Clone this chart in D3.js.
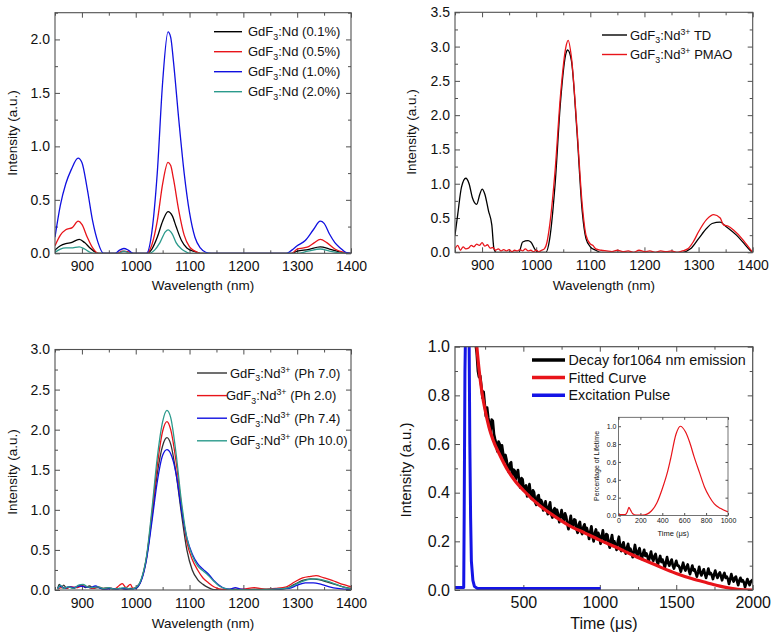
<!DOCTYPE html>
<html><head><meta charset="utf-8">
<script src="https://cdn.jsdelivr.net/npm/d3@7"></script>
<style>body{margin:0;background:#fff}svg{display:block}text{font-family:"Liberation Sans",Arial,sans-serif;fill:#111}</style>
</head><body>
<script>
// ---------- DATA ----------
const wlTicks = [900, 1000, 1100, 1200, 1300, 1400];
const wlMinor = [850, 950, 1050, 1150, 1250, 1350];
const p1YTicks = [0, 0.5, 1.0, 1.5, 2.0];
const p1YMinor = [0.25, 0.75, 1.25, 1.75, 2.25];
const p2YTicks = [0, 0.5, 1.0, 1.5, 2.0, 2.5, 3.0, 3.5];
const p2YMinor = [0.25, 0.75, 1.25, 1.75, 2.25, 2.75, 3.25];
const p3YTicks = [0, 0.5, 1.0, 1.5, 2.0, 2.5, 3.0];
const p3YMinor = [0.25, 0.75, 1.25, 1.75, 2.25, 2.75];
const timeTicks = [500, 1000, 1500, 2000];
const timeMinor = [250, 750, 1250, 1750];
const p4YTicks = [0, 0.2, 0.4, 0.6, 0.8, 1.0];
const p4YMinor = [0.1, 0.3, 0.5, 0.7, 0.9];
const insetXTicks = [0, 200, 400, 600, 800, 1000];
const insetYTicks = [0, 0.2, 0.4, 0.6, 0.8, 1.0];

const p1Labels = ["GdF3:Nd (0.1%)", "GdF3:Nd (0.5%)", "GdF3:Nd (1.0%)", "GdF3:Nd (2.0%)"];
const p1Colors = ["#000000", "#e8141a", "#1010e0", "#2b9a8c"];
const p1_01 = [[850,0.03],[860,0.07],[870,0.09],[880,0.1],[895,0.13],[905,0.1],[915,0.05],[925,0.01],[932,0],[1020,0],[1030,0.04],[1040,0.15],[1050,0.3],[1060,0.39],[1068,0.35],[1075,0.25],[1085,0.12],[1095,0.05],[1110,0.015],[1120,0],[1290,0],[1300,0.02],[1320,0.035],[1343,0.06],[1360,0.04],[1380,0.012],[1395,0],[1400,0]];
const p1_05 = [[850,0.07],[860,0.17],[870,0.22],[882,0.24],[893,0.3],[900,0.27],[910,0.15],[920,0.05],[930,0],[965,0],[975,0.02],[985,0.015],[995,0],[1020,0],[1030,0.08],[1040,0.3],[1050,0.65],[1060,0.85],[1065,0.82],[1070,0.7],[1080,0.4],[1090,0.17],[1100,0.06],[1110,0.02],[1120,0],[1290,0],[1300,0.04],[1312,0.05],[1322,0.065],[1332,0.1],[1343,0.13],[1355,0.1],[1370,0.04],[1385,0.01],[1400,0]];
const p1_10 = [[850,0.15],[860,0.45],[870,0.65],[880,0.78],[893,0.89],[900,0.85],[910,0.6],[920,0.3],[930,0.1],[940,0],[962,0],[970,0.03],[978,0.045],[986,0.03],[995,0],[1020,0],[1030,0.2],[1040,0.75],[1050,1.6],[1060,2.07],[1065,2.02],[1070,1.8],[1080,1.25],[1090,0.75],[1100,0.38],[1110,0.15],[1120,0.05],[1130,0.01],[1140,0],[1280,0],[1290,0.03],[1300,0.07],[1315,0.12],[1330,0.22],[1343,0.3],[1350,0.28],[1360,0.18],[1370,0.1],[1380,0.05],[1390,0.01],[1400,0]];
const p1_20 = [[850,0.01],[860,0.04],[870,0.05],[880,0.05],[895,0.06],[905,0.04],[915,0.01],[925,0],[968,0],[978,0.02],[990,0],[1025,0],[1035,0.03],[1045,0.1],[1055,0.2],[1060,0.22],[1068,0.18],[1075,0.1],[1085,0.04],[1095,0.01],[1100,0],[1300,0],[1320,0.02],[1343,0.04],[1360,0.02],[1390,0],[1400,0]];

const p2Colors = ["#000000", "#e8141a"];
const p2_TD = [[850,0.25],[855,0.55],[862,0.95],[870,1.08],[876,1.0],[882,0.8],[890,0.7],[896,0.85],[900,0.92],[905,0.85],[912,0.6],[918,0.4],[922,0.05],[926,0],[968,0],[975,0.15],[985,0.17],[990,0.15],[1000,0.02],[1010,0],[1018,0],[1025,0.2],[1035,1.0],[1045,2.2],[1055,2.9],[1058,2.95],[1065,2.8],[1075,1.8],[1085,0.6],[1092,0.2],[1100,0.08],[1110,0.03],[1120,0],[1270,0],[1285,0.05],[1300,0.2],[1315,0.35],[1325,0.42],[1340,0.44],[1350,0.38],[1370,0.25],[1385,0.12],[1395,0.03],[1400,0]];
const p2_PMAO = [[850,0.05],[855,0.1],[860,0.03],[865,0.08],[870,0.05],[875,0.06],[880,0.1],[885,0.08],[890,0.12],[895,0.1],[900,0.14],[905,0.09],[910,0.11],[915,0.06],[920,0.07],[925,0.03],[930,0.05],[935,0.02],[940,0.04],[945,0.02],[950,0.04],[955,0.01],[960,0.03],[965,0.02],[970,0.04],[975,0.02],[980,0.05],[985,0.02],[990,0.03],[995,0.01],[1000,0.03],[1005,0.01],[1010,0.03],[1015,0.05],[1020,0.15],[1025,0.4],[1035,1.2],[1045,2.3],[1055,3.0],[1059,3.09],[1065,2.85],[1075,1.85],[1085,0.7],[1092,0.25],[1100,0.12],[1105,0.1],[1110,0.05],[1120,0.03],[1130,0.02],[1140,0.01],[1150,0.03],[1160,0.01],[1170,0.02],[1180,0],[1190,0.03],[1200,0.01],[1210,0.02],[1220,0],[1230,0.02],[1240,0.01],[1250,0.02],[1260,0],[1270,0.02],[1280,0.05],[1290,0.15],[1300,0.3],[1315,0.48],[1328,0.55],[1340,0.5],[1346,0.4],[1355,0.38],[1365,0.32],[1380,0.2],[1390,0.1],[1400,0]];

const p3Colors = ["#333333", "#e8141a", "#1010e0", "#2b9a8c"];
const p3Ph70 = [[855,0.02],[858,0.07],[862,0.03],[866,0.06],[872,0.02],[878,0.04],[885,0.02],[892,0.05],[900,0.06],[906,0.03],[914,0.05],[922,0.02],[930,0.03],[940,0.01],[950,0.02],[960,0.01],[970,0.02],[980,0.01],[990,0.02],[1000,0.02],[1010,0.12],[1020,0.4],[1030,0.9],[1040,1.45],[1050,1.8],[1058,1.9],[1065,1.82],[1075,1.45],[1085,0.95],[1095,0.5],[1105,0.25],[1115,0.13],[1125,0.07],[1135,0.03],[1145,0.005],[1160,0],[1180,0.01],[1200,0.005],[1230,0.01],[1260,0.005],[1280,0.02],[1295,0.07],[1310,0.12],[1325,0.14],[1340,0.13],[1355,0.1],[1370,0.07],[1385,0.04],[1400,0.02]];
const p3Ph20 = [[855,0.01],[862,0.03],[870,0.02],[880,0.04],[890,0.03],[900,0.05],[910,0.04],[920,0.02],[930,0.04],[940,0.02],[950,0.03],[960,0.01],[970,0.06],[975,0.08],[982,0.03],[990,0.07],[995,0.02],[1000,0.03],[1010,0.12],[1020,0.4],[1030,0.95],[1040,1.55],[1050,1.98],[1058,2.1],[1065,2.0],[1075,1.6],[1085,1.05],[1095,0.6],[1105,0.38],[1115,0.25],[1125,0.15],[1135,0.09],[1145,0.04],[1155,0.015],[1170,0.005],[1200,0.01],[1220,0.03],[1240,0.01],[1260,0.02],[1280,0.04],[1295,0.1],[1310,0.15],[1325,0.17],[1335,0.18],[1350,0.15],[1365,0.12],[1380,0.08],[1390,0.06],[1400,0.04]];
const p3Ph74 = [[855,0.02],[860,0.05],[868,0.02],[875,0.04],[885,0.03],[895,0.05],[905,0.04],[915,0.03],[925,0.05],[935,0.02],[945,0.01],[955,0.02],[965,0.01],[975,0.02],[985,0.01],[995,0.01],[1005,0.05],[1012,0.15],[1020,0.38],[1030,0.85],[1040,1.35],[1050,1.68],[1058,1.75],[1065,1.7],[1075,1.45],[1085,1.0],[1095,0.65],[1105,0.45],[1115,0.33],[1125,0.26],[1135,0.2],[1145,0.12],[1155,0.06],[1165,0.02],[1175,0.01],[1185,0.03],[1195,0.01],[1220,0],[1260,0.01],[1285,0.02],[1300,0.06],[1315,0.09],[1330,0.09],[1345,0.07],[1360,0.04],[1375,0.02],[1390,0.01],[1400,0]];
const p3Ph100 = [[855,0.01],[860,0.06],[866,0.02],[874,0.04],[884,0.02],[894,0.06],[902,0.07],[910,0.04],[920,0.03],[930,0.04],[940,0.02],[950,0.03],[960,0.01],[970,0.02],[980,0.03],[990,0.01],[1000,0.03],[1010,0.13],[1020,0.42],[1030,1.0],[1040,1.65],[1050,2.1],[1058,2.24],[1065,2.15],[1075,1.7],[1085,1.1],[1095,0.65],[1105,0.43],[1115,0.3],[1125,0.24],[1135,0.18],[1145,0.11],[1155,0.05],[1165,0.02],[1180,0.005],[1220,0.005],[1260,0.01],[1285,0.03],[1300,0.08],[1320,0.13],[1335,0.14],[1350,0.12],[1365,0.09],[1380,0.05],[1395,0.02],[1400,0.01]];

const p4Labels = ["Decay for1064 nm emission", "Fitted Curve", "Excitation Pulse"];
const p4Colors = ["#000000", "#e8141a", "#1414e6"];
const decay = [[180,1.05],[195,0.975],[203,0.9],[210,0.875],[218,0.88],[225,0.84],[233,0.79],[240,0.815],[248,0.76],[255,0.715],[263,0.75],[270,0.71],[278,0.68],[285,0.65],[293,0.7],[300,0.695],[308,0.64],[315,0.62],[323,0.6],[330,0.57],[338,0.61],[345,0.6],[353,0.55],[360,0.595],[368,0.56],[375,0.525],[383,0.555],[390,0.535],[398,0.5],[405,0.485],[413,0.52],[420,0.525],[428,0.47],[435,0.495],[443,0.49],[450,0.455],[458,0.48],[465,0.493],[473,0.44],[480,0.421],[488,0.46],[495,0.455],[503,0.41],[510,0.42],[518,0.43],[525,0.385],[533,0.41],[540,0.435],[548,0.39],[555,0.375],[563,0.41],[570,0.401],[578,0.36],[585,0.35],[593,0.385],[600,0.39],[608,0.35],[615,0.37],[623,0.36],[630,0.327],[638,0.34],[645,0.364],[653,0.33],[660,0.312],[668,0.345],[675,0.36],[683,0.31],[690,0.298],[698,0.33],[705,0.336],[713,0.3],[720,0.33],[728,0.31],[735,0.279],[743,0.3],[750,0.328],[758,0.3],[765,0.287],[773,0.315],[780,0.301],[788,0.27],[795,0.25],[803,0.28],[810,0.305],[818,0.27],[825,0.26],[833,0.29],[840,0.288],[848,0.25],[855,0.235],[863,0.27],[870,0.28],[878,0.24],[885,0.23],[893,0.26],[900,0.27],[908,0.24],[915,0.255],[923,0.235],[930,0.21],[938,0.24],[945,0.262],[953,0.22],[960,0.2],[968,0.235],[975,0.249],[983,0.21],[990,0.235],[998,0.22],[1005,0.19],[1013,0.22],[1020,0.245],[1028,0.21],[1035,0.195],[1043,0.23],[1050,0.226],[1058,0.19],[1065,0.174],[1073,0.205],[1080,0.226],[1088,0.19],[1095,0.2],[1103,0.185],[1110,0.165],[1118,0.2],[1125,0.219],[1133,0.18],[1140,0.16],[1148,0.185],[1155,0.196],[1163,0.165],[1170,0.15],[1178,0.175],[1185,0.19],[1193,0.16],[1200,0.17],[1208,0.155],[1215,0.135],[1223,0.16],[1230,0.185],[1238,0.155],[1245,0.14],[1253,0.16],[1260,0.172],[1268,0.14],[1275,0.128],[1283,0.15],[1290,0.165],[1298,0.14],[1305,0.15],[1313,0.135],[1320,0.118],[1328,0.14],[1335,0.158],[1343,0.13],[1350,0.12],[1358,0.14],[1365,0.148],[1373,0.12],[1380,0.105],[1388,0.125],[1395,0.14],[1403,0.115],[1410,0.125],[1418,0.11],[1425,0.092],[1433,0.115],[1440,0.135],[1448,0.11],[1455,0.1],[1463,0.115],[1470,0.125],[1478,0.1],[1485,0.088],[1493,0.105],[1500,0.12],[1508,0.1],[1515,0.1],[1523,0.09],[1530,0.075],[1538,0.095],[1545,0.112],[1553,0.09],[1560,0.08],[1568,0.095],[1575,0.105],[1583,0.08],[1590,0.065],[1598,0.085],[1605,0.1],[1613,0.08],[1620,0.085],[1628,0.07],[1635,0.055],[1643,0.075],[1650,0.095],[1658,0.07],[1665,0.06],[1673,0.075],[1680,0.085],[1688,0.065],[1695,0.05],[1703,0.07],[1710,0.088],[1718,0.065],[1725,0.07],[1733,0.06],[1740,0.045],[1748,0.065],[1755,0.08],[1763,0.06],[1770,0.05],[1778,0.065],[1785,0.072],[1793,0.055],[1800,0.04],[1808,0.06],[1815,0.07],[1823,0.05],[1830,0.055],[1838,0.045],[1845,0.025],[1853,0.045],[1860,0.065],[1868,0.045],[1875,0.035],[1883,0.05],[1890,0.055],[1898,0.035],[1905,0.02],[1913,0.04],[1920,0.05],[1928,0.035],[1935,0.04],[1943,0.03],[1950,0.012],[1958,0.03],[1965,0.045],[1973,0.03],[1980,0.02],[1988,0.035],[1995,0.04],[2000,0.03]];
const fitted = [[190,1.04],[200,0.97],[215,0.88],[230,0.81],[250,0.74],[275,0.67],[300,0.62],[350,0.55],[400,0.49],[450,0.445],[500,0.41],[600,0.35],[700,0.305],[800,0.265],[900,0.235],[1000,0.205],[1100,0.178],[1200,0.148],[1300,0.12],[1400,0.093],[1500,0.068],[1600,0.047],[1700,0.03],[1800,0.014],[1900,0.003],[2000,0]];
const pulse = [[50,0.01],[110,0.01],[113,0.3],[118,0.9],[122,1.06],[145,1.06],[150,0.6],[155,0.3],[160,0.12],[170,0.04],[180,0.015],[200,0.006],[1005,0.006]];
const lifetime = [[0,0.01],[60,0.01],[80,0.04],[95,0.09],[110,0.06],[130,0.02],[160,0.005],[220,0.005],[260,0.015],[300,0.05],[350,0.14],[400,0.3],[450,0.5],[475,0.63],[525,0.91],[565,1.0],[610,0.94],[650,0.82],[690,0.66],[740,0.48],[785,0.32],[830,0.21],[875,0.13],[930,0.08],[1000,0.04]];

// ---------- DRAW ----------
const svg = d3.select("body").append("svg").attr("width", 774).attr("height", 636);
let clipId = 0;
const FRAME = "#505050";

function panel(cfg) {
  const x = d3.scaleLinear().domain(cfg.xd).range([cfg.x0, cfg.x1]);
  const y = d3.scaleLinear().domain(cfg.yd).range([cfg.y1, cfg.y0]);
  const g = svg.append("g");
  const id = "clip" + (clipId++);
  g.append("clipPath").attr("id", id).append("rect")
    .attr("x", cfg.x0).attr("y", cfg.y0).attr("width", cfg.x1 - cfg.x0).attr("height", cfg.y1 - cfg.y0);
  if (cfg.bg) g.append("rect").attr("x", cfg.x0).attr("y", cfg.y0).attr("width", cfg.x1 - cfg.x0).attr("height", cfg.y1 - cfg.y0).attr("fill", "#fff");
  const fs = cfg.tickFont, tl = cfg.tickLen || 5, tm = cfg.minorLen || 3;
  const styleAxis = a => { a.select(".domain").remove(); a.selectAll("line").attr("stroke", FRAME); a.selectAll("text").attr("font-size", fs).attr("fill", "#111"); };
  g.append("g").attr("transform", `translate(0,${cfg.y1})`)
    .call(d3.axisBottom(x).tickValues(cfg.xt).tickSize(-tl).tickPadding(cfg.xpad).tickFormat(cfg.xf || d3.format("d"))).call(styleAxis);
  g.append("g").attr("transform", `translate(0,${cfg.y1})`)
    .call(d3.axisBottom(x).tickValues(cfg.xm).tickSize(-tm).tickFormat("")).call(styleAxis);
  g.append("g").attr("transform", `translate(0,${cfg.y0})`)
    .call(d3.axisTop(x).tickValues(cfg.xt).tickSize(-tl).tickFormat("")).call(styleAxis);
  g.append("g").attr("transform", `translate(0,${cfg.y0})`)
    .call(d3.axisTop(x).tickValues(cfg.xm).tickSize(-tm).tickFormat("")).call(styleAxis);
  g.append("g").attr("transform", `translate(${cfg.x0},0)`)
    .call(d3.axisLeft(y).tickValues(cfg.yt).tickSize(-tl).tickPadding(cfg.ypad).tickFormat(cfg.yf || d3.format(".1f"))).call(styleAxis);
  g.append("g").attr("transform", `translate(${cfg.x0},0)`)
    .call(d3.axisLeft(y).tickValues(cfg.ym).tickSize(-tm).tickFormat("")).call(styleAxis);
  g.append("g").attr("transform", `translate(${cfg.x1},0)`)
    .call(d3.axisRight(y).tickValues(cfg.yt).tickSize(-tl).tickFormat("")).call(styleAxis);
  g.append("g").attr("transform", `translate(${cfg.x1},0)`)
    .call(d3.axisRight(y).tickValues(cfg.ym).tickSize(-tm).tickFormat("")).call(styleAxis);
  const sg = g.append("g").attr("clip-path", `url(#${id})`);
  cfg.series.forEach(s => {
    const line = d3.line().x(d => x(d[0])).y(d => y(d[1])).curve(s.curve || cfg.curve || d3.curveMonotoneX);
    sg.append("path").datum(s.data).attr("d", line).attr("fill", "none")
      .attr("stroke", s.color).attr("stroke-width", s.w || 1.3).attr("stroke-linejoin", "round");
  });
  g.append("rect").attr("x", cfg.x0).attr("y", cfg.y0).attr("width", cfg.x1 - cfg.x0).attr("height", cfg.y1 - cfg.y0)
    .attr("fill", "none").attr("stroke", FRAME).attr("stroke-width", cfg.frameW || 1.1);
  g.append("text").attr("x", (cfg.x0 + cfg.x1) / 2).attr("y", cfg.xTitleY).attr("text-anchor", "middle")
    .attr("font-size", cfg.xTitleFont).text(cfg.xTitle);
  g.append("text").attr("transform", `translate(${cfg.yTitleX},${cfg.yTitleCY}) rotate(-90)`).attr("text-anchor", "middle")
    .attr("dy", "0.35em").attr("font-size", cfg.yTitleFont).text(cfg.yTitle);
  return { x, y, g };
}

function rich(sel, xPos, yPos, parts, size) {
  const t = sel.append("text").attr("x", xPos).attr("y", yPos).attr("font-size", size);
  let off = 0;
  parts.forEach(([txt, kind]) => {
    let target = 0;
    if (kind === "sub") target = size * 0.3;
    if (kind === "sup") target = -size * 0.38;
    const ts = t.append("tspan").attr("dy", target - off).text(txt);
    if (kind) ts.attr("font-size", size * 0.68);
    off = target;
  });
  return t;
}
function gdfParts(label) {
  const rest = label.replace("GdF3:Nd", "");
  return [["GdF"], ["3", "sub"], [":Nd"], [rest]];
}

// Panel 1
panel({ x0: 55, x1: 351, y0: 12.7, y1: 253.3, xd: [850, 1400], yd: [0, 2.25],
  xt: wlTicks, xm: wlMinor, yt: p1YTicks, ym: p1YMinor, tickFont: 14, xpad: 8, ypad: 5,
  xTitle: "Wavelength (nm)", xTitleY: 290, xTitleFont: 13.5, yTitle: "Intensity (a.u.)", yTitleX: 12, yTitleCY: 133, yTitleFont: 13.5,
  series: [{ data: p1_01, color: p1Colors[0] }, { data: p1_05, color: p1Colors[1] }, { data: p1_10, color: p1Colors[2] }, { data: p1_20, color: p1Colors[3] }] });
p1Labels.forEach((lab, i) => {
  const cy = 31.7 + i * 20;
  svg.append("line").attr("x1", 214).attr("x2", 242).attr("y1", cy).attr("y2", cy).attr("stroke", p1Colors[i]).attr("stroke-width", 1.4);
  rich(svg, 248, cy + 4.5, gdfParts(lab), 13);
});

// Panel 2
panel({ x0: 455, x1: 752.7, y0: 12.3, y1: 252.3, xd: [850, 1400], yd: [0, 3.5],
  xt: wlTicks, xm: wlMinor, yt: p2YTicks, ym: p2YMinor, tickFont: 14, xpad: 8, ypad: 5,
  xTitle: "Wavelength (nm)", xTitleY: 290, xTitleFont: 13.5, yTitle: "Intensity (a.u.)", yTitleX: 411, yTitleCY: 132, yTitleFont: 13.5,
  series: [{ data: p2_TD, color: p2Colors[0] }, { data: p2_PMAO, color: p2Colors[1] }] });
[" TD", " PMAO"].forEach((suf, i) => {
  const cy = 35 + i * 19.5;
  svg.append("line").attr("x1", 602).attr("x2", 627).attr("y1", cy).attr("y2", cy).attr("stroke", p2Colors[i]).attr("stroke-width", 1.4);
  rich(svg, 630, cy + 4.5, [["GdF"], ["3", "sub"], [":Nd"], ["3+", "sup"], [suf]], 13);
});

// Panel 3
panel({ x0: 55, x1: 351, y0: 349.5, y1: 590, xd: [850, 1400], yd: [0, 3],
  xt: wlTicks, xm: wlMinor, yt: p3YTicks, ym: p3YMinor, tickFont: 14, xpad: 8, ypad: 5,
  xTitle: "Wavelength (nm)", xTitleY: 628, xTitleFont: 13.5, yTitle: "Intensity (a.u.)", yTitleX: 12, yTitleCY: 472, yTitleFont: 13.5,
  series: [{ data: p3Ph70, color: p3Colors[0] }, { data: p3Ph20, color: p3Colors[1] }, { data: p3Ph74, color: p3Colors[2] }, { data: p3Ph100, color: p3Colors[3] }] });
const p3Suffix = [" (Ph 7.0)", " (Ph 2.0)", " (Ph 7.4)", " (Ph 10.0)"];
p3Suffix.forEach((suf, i) => {
  const cy = 373 + i * 22.6;
  svg.append("line").attr("x1", 197).attr("x2", 227).attr("y1", cy).attr("y2", cy).attr("stroke", p3Colors[i]).attr("stroke-width", 1.4);
  rich(svg, i === 1 ? 226 : 230, cy + 4.5, [["GdF"], ["3", "sub"], [":Nd"], ["3+", "sup"], [suf]], 13);
});

// Panel 4
panel({ x0: 455, x1: 752.7, y0: 346.7, y1: 590, xd: [53, 2000], yd: [0, 1],
  xt: timeTicks, xm: timeMinor, yt: p4YTicks, ym: p4YMinor, tickFont: 16, xpad: 7, ypad: 5, frameW: 1.2,
  xTitle: "Time (\u03bcs)", xTitleY: 629, xTitleFont: 16, yTitle: "Intensity (a.u.)", yTitleX: 406, yTitleCY: 470, yTitleFont: 15,
  curve: d3.curveLinear,
  series: [{ data: pulse, color: p4Colors[2], w: 3 }, { data: decay, color: p4Colors[0], w: 2.7 }, { data: fitted, color: p4Colors[1], w: 3.2, curve: d3.curveMonotoneX }] });
p4Labels.forEach((lab, i) => {
  const cy = 360 + i * 17.6;
  svg.append("line").attr("x1", 532).attr("x2", 565).attr("y1", cy).attr("y2", cy).attr("stroke", p4Colors[i]).attr("stroke-width", 3.5);
  svg.append("text").attr("x", 568.5).attr("y", cy + 5.2).attr("font-size", 14.3).text(lab);
});

// Inset
panel({ x0: 618.5, x1: 728, y0: 417.3, y1: 515.5, xd: [0, 1000], yd: [0, 1.1], bg: true,
  xt: insetXTicks, xm: [], yt: insetYTicks, ym: [], tickFont: 7, xpad: 2.5, ypad: 2, tickLen: 2.5, frameW: 0.8,
  xTitle: "Time (\u03bcs)", xTitleY: 536, xTitleFont: 7.5, yTitle: "Percentage of Lifetime", yTitleX: 597, yTitleCY: 466, yTitleFont: 7,
  series: [{ data: lifetime, color: "#e8141a", w: 1.2 }] });
</script>
</body></html>
